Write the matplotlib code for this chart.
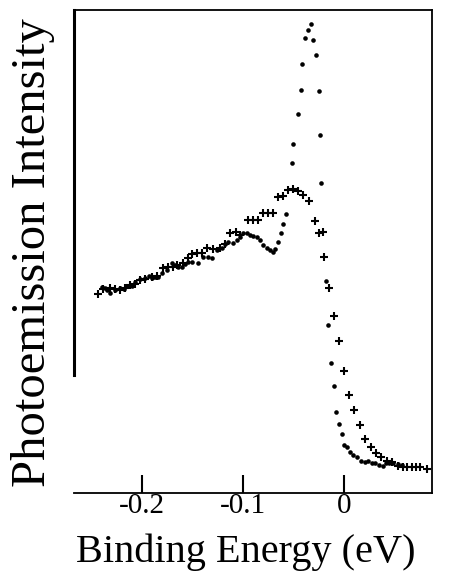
import matplotlib.pyplot as plt

# binding energy (eV) / intensity (arb. units)
dot_energy = [-0.240, -0.237, -0.235, -0.232, -0.227, -0.222, -0.218, -0.215, -0.210, -0.207,
              -0.202, -0.197, -0.193, -0.190, -0.187, -0.184, -0.180, -0.175, -0.170, -0.167,
              -0.164, -0.160, -0.157, -0.154, -0.150, -0.145, -0.140, -0.135, -0.131, -0.126,
              -0.121, -0.118, -0.115, -0.110, -0.106, -0.103, -0.100, -0.096, -0.093, -0.090,
              -0.086, -0.083, -0.080, -0.076, -0.073, -0.070, -0.068, -0.065, -0.062, -0.060,
              -0.057, -0.051, -0.050, -0.046, -0.043, -0.042, -0.039, -0.036, -0.033, -0.031,
              -0.028, -0.025, -0.024, -0.023, -0.018, -0.016, -0.013, -0.010, -0.008, -0.005,
              -0.002, 0.000, 0.003, 0.006, 0.009, 0.013, 0.017, 0.021, 0.024, 0.028,
              0.031, 0.035, 0.039, 0.042, 0.045, 0.049, 0.053, 0.057]
dot_intensity = [2.06, 2.05, 2.03, 2.00, 2.03, 2.05, 2.04, 2.07, 2.07, 2.11,
                 2.14, 2.15, 2.17, 2.15, 2.16, 2.16, 2.20, 2.23, 2.30, 2.28,
                 2.26, 2.26, 2.29, 2.31, 2.31, 2.30, 2.36, 2.36, 2.35, 2.43,
                 2.45, 2.49, 2.51, 2.50, 2.53, 2.56, 2.60, 2.60, 2.58, 2.57,
                 2.56, 2.53, 2.48, 2.45, 2.43, 2.41, 2.44, 2.51, 2.60, 2.69,
                 2.79, 3.30, 3.49, 3.79, 4.03, 4.29, 4.55, 4.63, 4.69, 4.53,
                 4.38, 4.02, 3.58, 3.10, 2.12, 1.68, 1.30, 1.07, 0.81, 0.69,
                 0.59, 0.48, 0.46, 0.41, 0.38, 0.36, 0.32, 0.31, 0.32, 0.30,
                 0.30, 0.28, 0.27, 0.30, 0.30, 0.30, 0.29, 0.28]

cross_energy = [-0.244, -0.239, -0.232, -0.227, -0.222, -0.217, -0.212, -0.207, -0.202, -0.197,
                -0.190, -0.185, -0.179, -0.174, -0.169, -0.165, -0.159, -0.154, -0.150, -0.146,
                -0.141, -0.136, -0.130, -0.123, -0.118, -0.113, -0.107, -0.103, -0.095, -0.090,
                -0.085, -0.080, -0.075, -0.070, -0.065, -0.060, -0.055, -0.050, -0.046, -0.041,
                -0.035, -0.029, -0.025, -0.021, -0.020, -0.015, -0.010, -0.005, 0.000, 0.005,
                0.010, 0.016, 0.021, 0.027, 0.032, 0.037, 0.043, 0.048, 0.053, 0.058,
                0.062, 0.067, 0.071, 0.075, 0.082]
cross_intensity = [1.99, 2.04, 2.05, 2.04, 2.03, 2.05, 2.08, 2.09, 2.13, 2.14,
                   2.16, 2.17, 2.25, 2.26, 2.26, 2.28, 2.30, 2.35, 2.39, 2.40,
                   2.40, 2.45, 2.44, 2.45, 2.49, 2.60, 2.61, 2.58, 2.73, 2.73,
                   2.73, 2.80, 2.80, 2.80, 2.96, 2.97, 3.03, 3.04, 3.02, 2.98,
                   2.92, 2.72, 2.60, 2.61, 2.36, 2.05, 1.77, 1.52, 1.22, 0.98,
                   0.83, 0.68, 0.54, 0.46, 0.40, 0.36, 0.32, 0.31, 0.27, 0.26,
                   0.26, 0.26, 0.26, 0.26, 0.24]

tick_pos = [-0.2, -0.1, 0.0]
tick_labels = ['-0.2', '-0.1', '0']

plt.rcParams['font.family'] = ['Liberation Serif', 'DejaVu Serif']

fig = plt.figure(figsize=(4.55, 5.81), dpi=100)
ax = fig.add_axes([0.1626, 0.1515, 0.7868, 0.8313])

ax.plot(dot_energy, dot_intensity, 'o', color='black', markersize=3.3, markeredgewidth=0)
ax.plot(cross_energy, cross_intensity, '+', color='black', markersize=5.5, markeredgewidth=1.5)

ax.set_xlim(-0.2673, 0.0871)
ax.set_ylim(0, 4.83)
ax.set_xticks(tick_pos)
ax.set_xticklabels(tick_labels, fontsize=21)
ax.set_yticks([])
ax.tick_params(axis='x', direction='in', length=13, width=1.5, pad=0)

for side in ['top', 'right', 'bottom']:
    ax.spines[side].set_linewidth(1.3)
ax.spines['left'].set_linewidth(2.2)
ax.spines['left'].set_bounds(1.18, 4.83)

fig.text(0.072, 0.565, 'Photoemission Intensity', rotation=90, fontsize=35,
         ha='center', va='center')
fig.text(0.54, 0.0327, 'Binding Energy (eV)', fontsize=29, ha='center', va='baseline')

plt.savefig('out.png', dpi=100)
plt.close()
